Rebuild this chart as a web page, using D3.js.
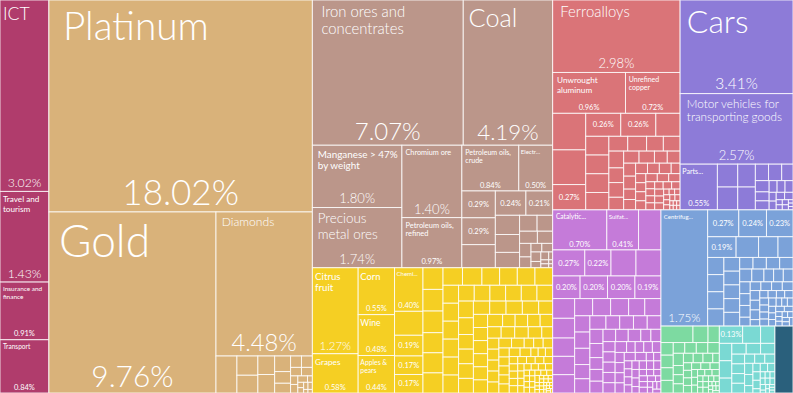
<!DOCTYPE html>
<html>
<head>
<meta charset="utf-8">
<script src="https://cdn.jsdelivr.net/npm/d3@7"></script>
<style>
  html, body { margin: 0; padding: 0; background: #fff; }
  svg { display: block; }
  text { fill: #fff; }
</style>
</head>
<body>
<div class="treemap"></div>
<script>
const width = 793
const height = 393
const font = "'Source Sans Pro', Lato, 'Open Sans', sans-serif"

// sectors, in the order the treemap lays them out
const sectors = ['Services', 'Stone', 'Minerals', 'Agriculture', 'Metals', 'Vehicles', 'Chemicals', 'Machinery', 'Textiles', 'Electronics', 'Other']
const sectorColors = ['#b03c6c', '#d9b27a', '#bb968a', '#f5cf23', '#da7478', '#8d7bd8', '#c57bd9', '#7ba2d9', '#7ddaa1', '#7ad9d3', '#2a607c']

// [label, share %]; '' = share only, null = no label
const servicesTop = [['ICT', 3.02], ['Travel and tourism', 1.43], ['Insurance and finance', 0.91], ['Transport', 0.84]]

const stoneTop = [['Platinum', 18.02], ['Gold', 9.76], ['Diamonds', 4.48]]
const stoneRest = [0.25, 0.13, 0.12, 0.1, 0.1, 0.08, 0.06, 0.05, 0.04, 0.04, 0.03, 0.03, 0.02, 0.02, 0.02, 0.01, 0.01, 0.01, 0.01, 0.01, 0.005, 0.005]

const mineralsTop = [
  ['Iron ores and concentrates', 7.07], ['Coal', 4.19], ['Manganese > 47% by weight', 1.80],
  ['Precious metal ores', 1.74], ['Chromium ore', 1.40], ['Petroleum oils, refined', 0.97],
  ['Petroleum oils, crude', 0.84], ['Electr...', 0.50], ['', 0.29], ['', 0.29], [null, 0.25], ['', 0.24], ['', 0.21]
]
const mineralsRest = [0.15, 0.14, 0.12, 0.09, 0.08, 0.07, 0.06, 0.05, 0.04, 0.03, 0.03, 0.03, 0.02, 0.02, 0.01, 0.01, 0.01, 0.005, 0.005]

const agricultureTop = [
  ['Citrus fruit', 1.27], ['Grapes', 0.58], ['Corn', 0.55], ['Wine', 0.48], ['Apples & pears', 0.44],
  ['Chemi...', 0.40], [null, 0.22], ['', 0.19], ['', 0.17], ['', 0.17]
]
const agricultureRest = [
  0.14, 0.14, 0.14, 0.13, 0.13, 0.13,
  0.11, 0.11, 0.1, 0.1, 0.1, 0.1, 0.09, 0.09, 0.09, 0.09, 0.09, 0.09,
  0.08, 0.08, 0.08, 0.08, 0.08, 0.08, 0.08, 0.08,
  0.07, 0.07, 0.07, 0.07, 0.07, 0.07, 0.07, 0.07,
  0.06, 0.06, 0.06, 0.06, 0.06, 0.06, 0.06, 0.06,
  0.05, 0.05, 0.05, 0.05, 0.05, 0.05, 0.05, 0.05,
  0.04, 0.04, 0.04, 0.04, 0.04, 0.04, 0.04, 0.04,
  0.03, 0.03, 0.03, 0.03, 0.03, 0.03, 0.03, 0.03, 0.03, 0.03,
  0.02, 0.02, 0.02, 0.02, 0.02, 0.02, 0.02, 0.02, 0.02, 0.02, 0.02, 0.02,
  0.015, 0.015, 0.015, 0.015, 0.015, 0.015, 0.015, 0.015,
  0.01, 0.01, 0.01, 0.01, 0.01, 0.01, 0.01, 0.01, 0.01, 0.01, 0.01, 0.01,
  0.005, 0.005, 0.005, 0.005, 0.005, 0.005, 0.005, 0.005, 0.005, 0.005, 0.005, 0.005,
  0.003, 0.003, 0.003, 0.003, 0.003, 0.003, 0.003, 0.003, 0.003, 0.003
]

const metalsTop = [
  ['Ferroalloys', 2.98], ['Unwrought aluminum', 0.96], ['Unrefined copper', 0.72],
  [null, 0.39], [null, 0.37], ['', 0.27], ['', 0.26], ['', 0.26], [null, 0.18]
]
const metalsRest = [
  0.14, 0.14, 0.14, 0.13, 0.09, 0.09, 0.08, 0.08, 0.08,
  0.07, 0.07, 0.06, 0.06, 0.06, 0.05, 0.05, 0.05, 0.05,
  0.04, 0.04, 0.04, 0.04, 0.04,
  0.03, 0.03, 0.03, 0.03, 0.03, 0.03, 0.03, 0.03,
  0.02, 0.02, 0.02, 0.02, 0.02, 0.02, 0.02, 0.02, 0.02, 0.02,
  0.01, 0.01, 0.01, 0.01, 0.01, 0.01, 0.01, 0.01,
  0.005, 0.005, 0.005, 0.005, 0.005, 0.005
]

const vehiclesTop = [['Cars', 3.41], ['Motor vehicles for transporting goods', 2.57], ['Parts...', 0.55]]
const vehiclesRest = [
  0.15, 0.15, 0.13, 0.13, 0.07, 0.07, 0.06, 0.05, 0.04, 0.04, 0.03, 0.03, 0.03,
  0.02, 0.02, 0.02, 0.02, 0.01, 0.01, 0.01, 0.01, 0.005, 0.005, 0.005
]

const chemicalsTop = [
  ['Catalytic...', 0.70], ['Sulfat...', 0.41], [null, 0.29], ['', 0.27], ['', 0.22],
  [null, 0.21], [null, 0.21], ['', 0.20], ['', 0.20], ['', 0.20], ['', 0.19]
]
const chemicalsRest = [
  0.14, 0.14, 0.13, 0.13, 0.13, 0.1, 0.1, 0.1, 0.09, 0.09,
  0.08, 0.08, 0.08, 0.07, 0.07, 0.07,
  0.06, 0.06, 0.06, 0.06, 0.06, 0.06,
  0.05, 0.05, 0.05, 0.05, 0.05, 0.05,
  0.04, 0.04, 0.04, 0.04, 0.04, 0.04, 0.04, 0.04,
  0.03, 0.03, 0.03, 0.03, 0.03, 0.03, 0.03, 0.03, 0.03, 0.03,
  0.02, 0.02, 0.02, 0.02, 0.02, 0.02, 0.02, 0.02, 0.02, 0.02, 0.02, 0.02,
  0.015, 0.015, 0.015, 0.015, 0.015, 0.015, 0.015, 0.015,
  0.01, 0.01, 0.01, 0.01, 0.01, 0.01
]

const machineryTop = [
  ['Centrifug...', 1.75], ['', 0.27], ['', 0.24], ['', 0.23], ['', 0.19], [null, 0.15], [null, 0.13], [null, 0.10]
]
const machineryRest = [
  0.09, 0.09, 0.09, 0.09, 0.07, 0.07, 0.07, 0.07, 0.07,
  0.05, 0.05, 0.05, 0.05, 0.05, 0.05, 0.04, 0.04, 0.04, 0.04, 0.04, 0.04,
  0.03, 0.03, 0.03, 0.03, 0.03, 0.03, 0.03, 0.03,
  0.02, 0.02, 0.02, 0.02, 0.02, 0.02, 0.02, 0.02, 0.02, 0.02,
  0.015, 0.015, 0.015, 0.015, 0.015, 0.015, 0.015, 0.015,
  0.01, 0.01, 0.01, 0.01, 0.01, 0.01, 0.01, 0.01
]

const textilesRest = [
  0.17, 0.08, 0.06, 0.05, 0.05, 0.05, 0.05, 0.04, 0.04, 0.04, 0.04, 0.04,
  0.03, 0.03, 0.03, 0.03, 0.03, 0.03, 0.02, 0.02, 0.02, 0.02, 0.02, 0.02, 0.02, 0.02,
  0.015, 0.015, 0.015, 0.015, 0.015, 0.015,
  0.01, 0.01, 0.01, 0.01, 0.01, 0.01, 0.01, 0.01,
  0.005, 0.005, 0.005, 0.005, 0.005, 0.005, 0.005, 0.005
]

const electronicsTop = [['', 0.13]]
const electronicsRest = [
  0.1, 0.08, 0.07, 0.07, 0.06, 0.05, 0.05, 0.05, 0.04, 0.04, 0.04, 0.04,
  0.03, 0.03, 0.03, 0.03, 0.03, 0.02, 0.02, 0.02, 0.02, 0.02, 0.02,
  0.01, 0.01, 0.01, 0.01, 0.01, 0.01, 0.01, 0.01,
  0.005, 0.005, 0.005, 0.005, 0.005, 0.005
]

const otherTop = [[null, 0.39]]

const ctx = document.createElement('canvas').getContext('2d')

function textWidth(str, size, weight) {
  ctx.font = `${weight} ${size}px ${font}`
  return ctx.measureText(str).width
}

function wrap(words, size, maxW) {
  const lines = []
  let cur = ''
  words.forEach(w => {
    const t = cur ? cur + ' ' + w : w
    if (cur && textWidth(t, size, 300) > maxW) {
      lines.push(cur)
      cur = w
    } else {
      cur = t
    }
  })
  if (cur) lines.push(cur)
  return lines
}

function sector(i, top, rest) {
  return {
    sector: i,
    children: top
      .map(d => ({ name: d[0], value: d[1], sector: i }))
      .concat(rest.map(v => ({ name: null, value: v, sector: i })))
  }
}

const data = {
  children: [
    sector(0, servicesTop, []),
    {
      children: [
        sector(1, stoneTop, stoneRest),
        sector(2, mineralsTop, mineralsRest),
        sector(3, agricultureTop, agricultureRest),
        sector(4, metalsTop, metalsRest),
        sector(5, vehiclesTop, vehiclesRest),
        sector(6, chemicalsTop, chemicalsRest),
        sector(7, machineryTop, machineryRest),
        sector(8, [], textilesRest),
        sector(9, electronicsTop, electronicsRest),
        sector(10, otherTop, [])
      ]
    }
  ]
}

const root = d3.hierarchy(data).sum(d => (d.children ? 0 : d.value))

d3.treemap()
  .size([width, height])
  .tile(d3.treemapSquarify.ratio(1))
  .round(false)(root)

const color = d3.scaleOrdinal().domain(d3.range(sectors.length)).range(sectorColors)

const svg = d3
  .select('.treemap')
  .append('svg')
  .attr('width', width)
  .attr('height', height)
  .style('font-family', font)

const leaf = svg
  .selectAll('g')
  .data(root.leaves())
  .join('g')
  .attr('transform', d => `translate(${d.x0},${d.y0})`)

leaf
  .append('rect')
  .attr('width', d => d.x1 - d.x0)
  .attr('height', d => d.y1 - d.y0)
  .attr('fill', d => color(d.data.sector))
  .attr('stroke', 'rgba(255,255,255,0.8)')
  .attr('stroke-width', 1)

// product names, top left
leaf
  .filter(d => d.data.name)
  .each(function(d) {
    const w = d.x1 - d.x0
    const h = d.y1 - d.y0
    const pad = Math.max(2, Math.min(14, w * 0.06))
    const words = d.data.name.split(' ')
    const widest = d3.max(words, s => textWidth(s, 100, 300)) / 100
    let f = (0.62 * (w - 2 * pad)) / widest
    f = Math.max(6, Math.min(f, h * 0.4, 52))
    const lines = wrap(words, f, w - pad - 1)
    d3.select(this)
      .append('text')
      .attr('x', pad)
      .attr('y', 0.95 * f + 3)
      .style('font-size', f + 'px')
      .style('font-weight', f < 10 ? 400 : 300)
      .selectAll('tspan')
      .data(lines)
      .join('tspan')
      .attr('x', pad)
      .attr('dy', (l, i) => (i ? 1.15 * f : 0))
      .text(l => l)
  })

// shares
leaf
  .filter(d => d.data.name !== null)
  .append('text')
  .attr('text-anchor', 'middle')
  .each(function(d) {
    const w = d.x1 - d.x0
    const h = d.y1 - d.y0
    const named = d.data.name !== ''
    let f = 7.5
    if (named && w * h >= 3500) f = Math.min(0.25 * w, Math.max(0.165 * h, 13))
    d3.select(this)
      .attr('x', w / 2)
      .attr('y', named ? h - 0.12 * f - 2.5 : h / 2 + f * 0.35)
      .style('font-size', f + 'px')
      .style('font-weight', f < 10 ? 400 : 300)
      .text(d.data.value.toFixed(2) + '%')
  })
</script>
</body>
</html>
